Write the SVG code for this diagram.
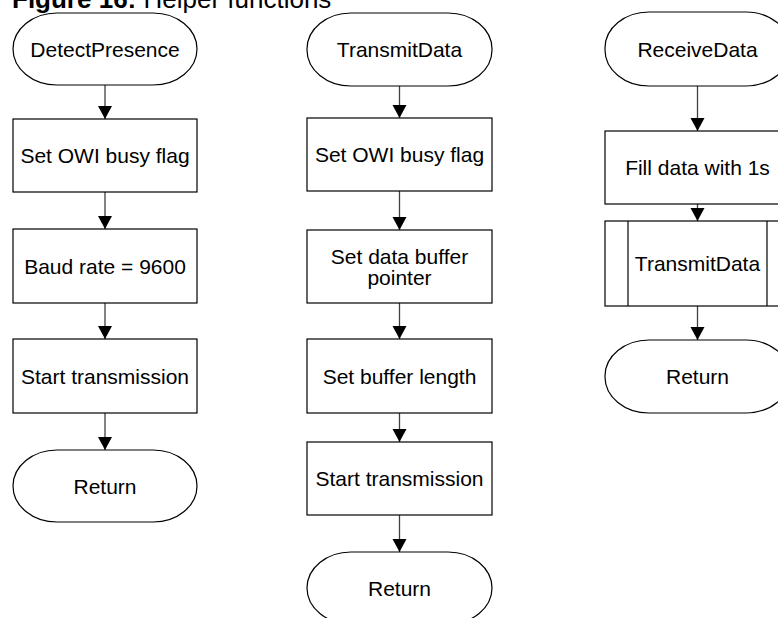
<svg xmlns="http://www.w3.org/2000/svg" width="778" height="618" viewBox="0 0 778 618">
<style>
.box{fill:#fff;stroke:#000;stroke-width:1.2}
.t{font-family:"Liberation Sans",Arial,sans-serif;font-size:21px;fill:#000;text-anchor:middle}
.c{stroke:#404040;stroke-width:1.3;fill:none;marker-end:url(#ah)}
</style>
<defs>
<marker id="ah" markerUnits="userSpaceOnUse" markerWidth="16" markerHeight="16" viewBox="0 0 16 16" refX="14" refY="8" orient="auto">
<path d="M1,1 L14,8 L1,15 Z" fill="#000"/>
</marker>
</defs>
<rect width="778" height="618" fill="#fff"/>
<text x="12" y="7.5" font-family="Liberation Sans,Arial,sans-serif" font-size="26" fill="#000"><tspan font-weight="bold">Figure 16:</tspan> Helper functions</text>

<g id="connectors">
<line class="c" x1="105" y1="85" x2="105" y2="119"/>
<line class="c" x1="105" y1="192" x2="105" y2="229"/>
<line class="c" x1="105" y1="303" x2="105" y2="339"/>
<line class="c" x1="105" y1="413" x2="105" y2="450"/>
<line class="c" x1="399.5" y1="86" x2="399.5" y2="118"/>
<line class="c" x1="399.5" y1="191" x2="399.5" y2="230"/>
<line class="c" x1="399.5" y1="303" x2="399.5" y2="339"/>
<line class="c" x1="399.5" y1="413" x2="399.5" y2="442"/>
<line class="c" x1="399.5" y1="515" x2="399.5" y2="552"/>
<line class="c" x1="697.5" y1="86" x2="697.5" y2="131"/>
<line class="c" x1="697.5" y1="204" x2="697.5" y2="221"/>
<line class="c" x1="697.5" y1="306" x2="697.5" y2="340"/>
</g>

<g id="detectPresence"><rect class="box" x="13" y="13" width="184" height="72" rx="44" ry="36"/><text class="t" x="105" y="56.5">DetectPresence</text></g>
<g id="dp_busy"><rect class="box" x="13" y="119" width="184" height="73"/><text class="t" x="105" y="163">Set OWI busy flag</text></g>
<g id="dp_baud"><rect class="box" x="13" y="229" width="184" height="74"/><text class="t" x="105" y="273.5">Baud rate = 9600</text></g>
<g id="dp_start"><rect class="box" x="13" y="339" width="184" height="74"/><text class="t" x="105" y="383.5">Start transmission</text></g>
<g id="dp_return"><rect class="box" x="13" y="450" width="184" height="72" rx="44" ry="36"/><text class="t" x="105" y="493.5">Return</text></g>

<g id="transmitData"><rect class="box" x="307" y="13" width="185" height="73" rx="44" ry="36"/><text class="t" x="399.5" y="57">TransmitData</text></g>
<g id="td_busy"><rect class="box" x="307" y="118" width="185" height="73"/><text class="t" x="399.5" y="162">Set OWI busy flag</text></g>
<g id="td_ptr"><rect class="box" x="307" y="230" width="185" height="73"/><text class="t" x="399.5" y="263.5">Set data buffer</text><text class="t" x="399.5" y="285">pointer</text></g>
<g id="td_len"><rect class="box" x="307" y="339" width="185" height="74"/><text class="t" x="399.5" y="383.5">Set buffer length</text></g>
<g id="td_start"><rect class="box" x="307" y="442" width="185" height="73"/><text class="t" x="399.5" y="486">Start transmission</text></g>
<g id="td_return"><rect class="box" x="307" y="552" width="185" height="72" rx="44" ry="36"/><text class="t" x="399.5" y="595.5">Return</text></g>

<g id="receiveData"><rect class="box" x="605" y="12" width="185" height="74" rx="44" ry="36"/><text class="t" x="697.5" y="56.5">ReceiveData</text></g>
<g id="rd_fill"><rect class="box" x="605" y="131" width="185" height="73"/><text class="t" x="697.5" y="175">Fill data with 1s</text></g>
<g id="rd_call"><rect class="box" x="605" y="221" width="185" height="85"/><line x1="628" y1="221" x2="628" y2="306" stroke="#000" stroke-width="1.2"/><line x1="767" y1="221" x2="767" y2="306" stroke="#000" stroke-width="1.2"/><text class="t" x="697.5" y="271">TransmitData</text></g>
<g id="rd_return"><rect class="box" x="605" y="340" width="185" height="73" rx="44" ry="36"/><text class="t" x="697.5" y="384">Return</text></g>
</svg>
